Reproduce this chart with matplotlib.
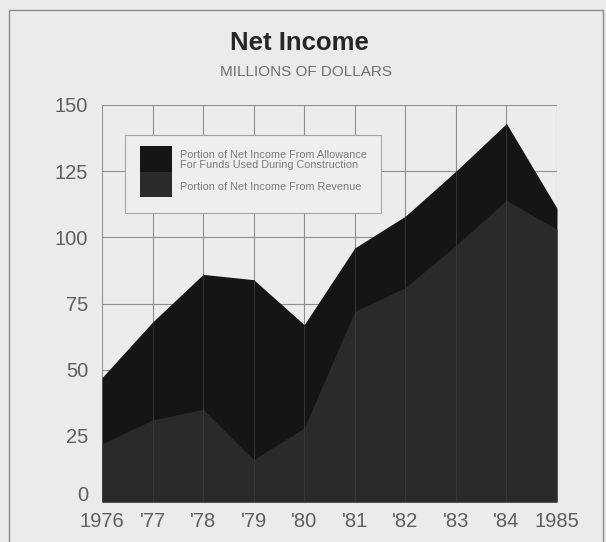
import matplotlib.pyplot as plt
from matplotlib.patches import Rectangle
from matplotlib.transforms import ScaledTranslation

plt.rcParams['font.family'] = ['Liberation Sans', 'DejaVu Sans']

years = [1976, 1977, 1978, 1979, 1980, 1981, 1982, 1983, 1984, 1985]
year_labels = ['1976', "'77", "'78", "'79", "'80", "'81", "'82", "'83", "'84", '1985']
total_income = [47, 68, 86, 84, 67, 96, 108, 125, 143, 111]
from_revenue = [22, 31, 35, 16, 28, 72, 81, 97, 114, 103]

W, H = 606, 542
fig = plt.figure(figsize=(W / 100, H / 100), dpi=100, facecolor='#ebebeb')

# thin outer frame of the printed page
fig.patches.append(Rectangle((9, -5), 594, H - 10 + 5, transform=None,
                             fill=False, ec='#8c8c8c', lw=1.0))

ax = fig.add_axes([102 / W, 40 / H, 455 / W, 397 / H])
ax.set_facecolor('#ececec')

ax.fill_between(years, 0, total_income, color='#151515', lw=0, zorder=2)
ax.fill_between(years, 0, from_revenue, color='#2a2a2a', lw=0, zorder=3)
# grid faintly visible through the dark print
ax.vlines(years[1:-1], 0, total_income[1:-1], color='#363636', lw=0.7, zorder=4)

ax.set_xlim(1976, 1985)
ax.set_ylim(0, 150)
ax.set_xticks(years)
ax.set_xticklabels(year_labels)
ax.set_yticks([0, 25, 50, 75, 100, 125, 150])
ax.grid(True, color='#8f8f8f', lw=0.8, zorder=1)
ax.set_axisbelow(True)
for s in ax.spines.values():
    s.set_visible(False)
ax.tick_params(length=0, labelsize=14.5, labelcolor='#5e5e5e')
ax.tick_params(axis='y', pad=10)
ax.tick_params(axis='x', pad=7)

# the "0" sits a little above the baseline in the original
zero = ax.get_yticklabels()[0]
zero.set_transform(zero.get_transform() + ScaledTranslation(0, 6 / 72, fig.dpi_scale_trans))

fig.text(299 / W, 1 - 43 / H, 'Net Income', ha='center', va='center',
         fontsize=18.5, fontweight='bold', color='#262626')
fig.text(306 / W, 1 - 72 / H, 'MILLIONS OF DOLLARS', ha='center', va='center',
         fontsize=11, color='#707070')

# legend drawn by hand (one swatch split in two shades)
fig.patches.append(Rectangle((125, H - 213), 256, 78, transform=None,
                             fc='#eeeeee', ec='#a5a5a5', lw=0.8, zorder=5))
fig.patches.append(Rectangle((140, H - 172), 32, 26, transform=None,
                             fc='#151515', lw=0, zorder=6))
fig.patches.append(Rectangle((140, H - 197), 32, 25, transform=None,
                             fc='#2a2a2a', lw=0, zorder=6))
fig.text(180 / W, 1 - 160.5 / H,
         'Portion of Net Income From Allowance\nFor Funds Used During Construction',
         ha='left', va='center', fontsize=7.8, color='#7a7a7a', linespacing=1.0,
         zorder=7)
fig.text(180 / W, 1 - 187 / H, 'Portion of Net Income From Revenue',
         ha='left', va='center', fontsize=7.8, color='#7a7a7a', zorder=7)

fig.savefig('out.png', dpi=100, facecolor=fig.get_facecolor())
